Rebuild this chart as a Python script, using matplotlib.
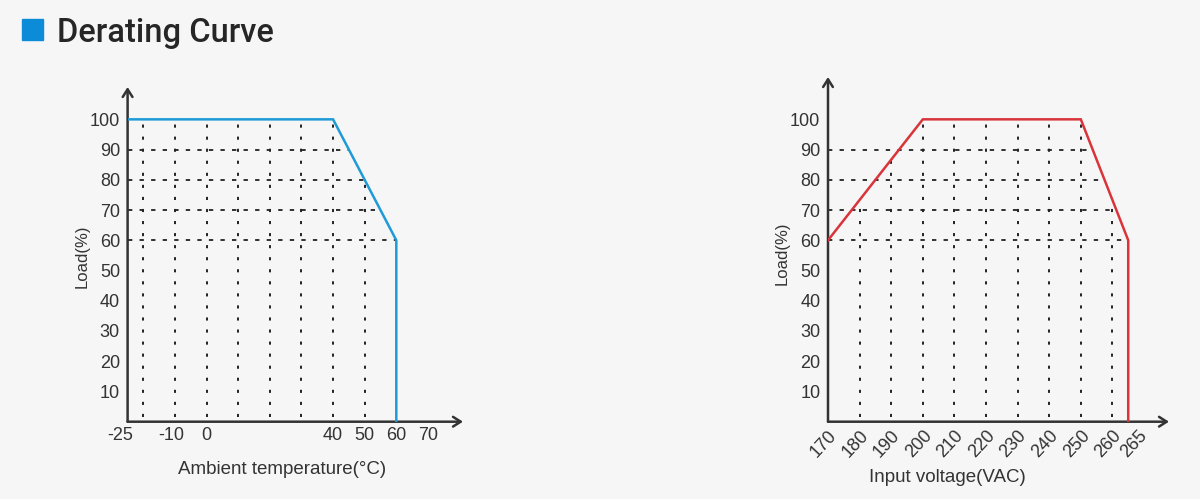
import numpy as np
import matplotlib
matplotlib.use("Agg")
import matplotlib.pyplot as plt
from matplotlib.transforms import ScaledTranslation
from matplotlib.patches import Rectangle

# ---- data ----
temp_x = [-25, 40, 60, 60]
temp_load = [100, 100, 60, 0]
temp_ticks = [-25, -10, 0, 40, 50, 60, 70]
temp_vgrid = [-20, -10, 0, 10, 20, 30, 40, 50]

volt_x = [170, 200, 250, 265, 265]
volt_load = [60, 100, 100, 60, 0]
volt_ticks = [170, 180, 190, 200, 210, 220, 230, 240, 250, 260, 265]
volt_vgrid = [180, 190, 200, 210, 220, 230, 240, 250, 260]

load_ticks = [10, 20, 30, 40, 50, 60, 70, 80, 90, 100]
hgrid = [60, 70, 80, 90]

BG = "#f6f6f6"
TXT = "#333333"
AX = "#333333"
BLUE = "#1e9bd7"
RED = "#d9343b"
FONT = "Liberation Sans"
TICK_FS = 13

W, H = 1200, 499
fig = plt.figure(figsize=(W / 100, H / 100), dpi=100, facecolor=BG)

def px_axes(x0, x1, ytop, ybot):
    return fig.add_axes([x0 / W, (H - ybot) / H, (x1 - x0) / W, (ybot - ytop) / H])

ax1 = px_axes(127.6, 463, 87, 421.7)
ax2 = px_axes(828, 1169, 77, 421.7)

def setup(ax, xmin, xmax, ymax):
    ax.set_facecolor(BG)
    ax.set_xlim(xmin, xmax)
    ax.set_ylim(0, ymax)
    for s in ax.spines.values():
        s.set_visible(False)
    ax.tick_params(length=0, labelsize=TICK_FS, labelcolor=TXT)
    ax.set_yticks(load_ticks)
    for lab in ax.get_yticklabels():
        lab.set_fontfamily(FONT)
    ax.tick_params(axis="y", pad=5.5)
    ax.tick_params(axis="x", pad=4)
    arrow = dict(arrowstyle="->,head_length=0.55,head_width=0.35", lw=1.8,
                 color=AX, shrinkA=0, shrinkB=0)
    ax.annotate("", xy=(1, 0), xytext=(0, 0), xycoords="axes fraction",
                textcoords="axes fraction", arrowprops=arrow, annotation_clip=False)
    ax.annotate("", xy=(0, 1), xytext=(0, 0), xycoords="axes fraction",
                textcoords="axes fraction", arrowprops=arrow, annotation_clip=False)

dot = dict(color="#222222", lw=1.4, linestyle=(0, (1.6, 4.6)), zorder=1)
hdot = dict(color="#222222", lw=1.3, linestyle=(0, (2.4, 4.0)), zorder=1)

# ---- left chart ----
setup(ax1, -25, 81.1, 110.7)
for gx in temp_vgrid:
    top = np.interp(gx, temp_x[:3], temp_load[:3])
    ax1.plot([gx, gx], [1.5, top], **dot)
desc_x = temp_x[1:3][::-1]
desc_y = temp_load[1:3][::-1]
for gy in hgrid:
    right = np.interp(gy, desc_y, desc_x)
    ax1.plot([temp_x[0], right], [gy, gy], **hdot)
ax1.plot(temp_x, temp_load, color=BLUE, lw=1.8, zorder=3, solid_joinstyle="miter")
ax1.set_xticks(temp_ticks)
ax1.set_xticklabels([str(t) for t in temp_ticks], fontfamily=FONT)
offs = {-25: -7, -10: -4}
for t, lab in zip(temp_ticks, ax1.get_xticklabels()):
    if t in offs:
        lab.set_transform(lab.get_transform() + ScaledTranslation(offs[t] / 100, 0, fig.dpi_scale_trans))
ax1.set_xlabel("Ambient temperature(°C)", fontsize=13.5, color=TXT, fontfamily=FONT)
ax1.xaxis.set_label_coords((282 - 127.6) / (463 - 127.6), -(470 - 421.7) / (421.7 - 87))
ax1.xaxis.label.set_va("center")
ax1.set_ylabel("Load(%)", fontsize=12, color=TXT, fontfamily=FONT)
ax1.yaxis.set_label_coords((82 - 127.6) / (463 - 127.6), (421.7 - 256) / (421.7 - 87))
ax1.yaxis.label.set_va("center")

# ---- right chart ----
setup(ax2, 170, 277.9, 114.0)
for gx in volt_vgrid:
    top = np.interp(gx, volt_x[:4], volt_load[:4])
    ax2.plot([gx, gx], [1.5, top], **dot)
desc_x2 = volt_x[2:4][::-1]
desc_y2 = volt_load[2:4][::-1]
for gy in hgrid:
    right = np.interp(gy, desc_y2, desc_x2)
    ax2.plot([volt_x[0], right], [gy, gy], **hdot)
ax2.plot(volt_x, volt_load, color=RED, lw=1.8, zorder=3, solid_joinstyle="miter")
ax2.set_xticks(volt_ticks)
ax2.set_xticklabels([str(t) for t in volt_ticks], fontfamily=FONT, rotation=47,
                    ha="right", va="top", rotation_mode="anchor")
for t, lab in zip(volt_ticks, ax2.get_xticklabels()):
    if t == 265:
        lab.set_transform(lab.get_transform() + ScaledTranslation(10 / 100, 0, fig.dpi_scale_trans))
ax2.set_xlabel("Input voltage(VAC)", fontsize=13.5, color=TXT, fontfamily=FONT)
ax2.xaxis.set_label_coords((947 - 828) / (1169 - 828), -(478 - 421.7) / (421.7 - 77))
ax2.xaxis.label.set_va("center")
ax2.set_ylabel("Load(%)", fontsize=12, color=TXT, fontfamily=FONT)
ax2.yaxis.set_label_coords((782 - 828) / (1169 - 828), (421.7 - 253.5) / (421.7 - 77))
ax2.yaxis.label.set_va("center")

# ---- title ----
fig.patches.append(Rectangle((22 / W, (H - 40) / H), 21 / W, 21 / H,
                             transform=fig.transFigure, color="#0b8bd8", zorder=5))
fig.text(57 / W, (H - 42) / H, "Derating Curve", fontsize=23.5, color="#262626",
         fontfamily="Roboto", fontweight="medium", va="baseline", ha="left")

fig.savefig("out.png", dpi=100, facecolor=BG)
